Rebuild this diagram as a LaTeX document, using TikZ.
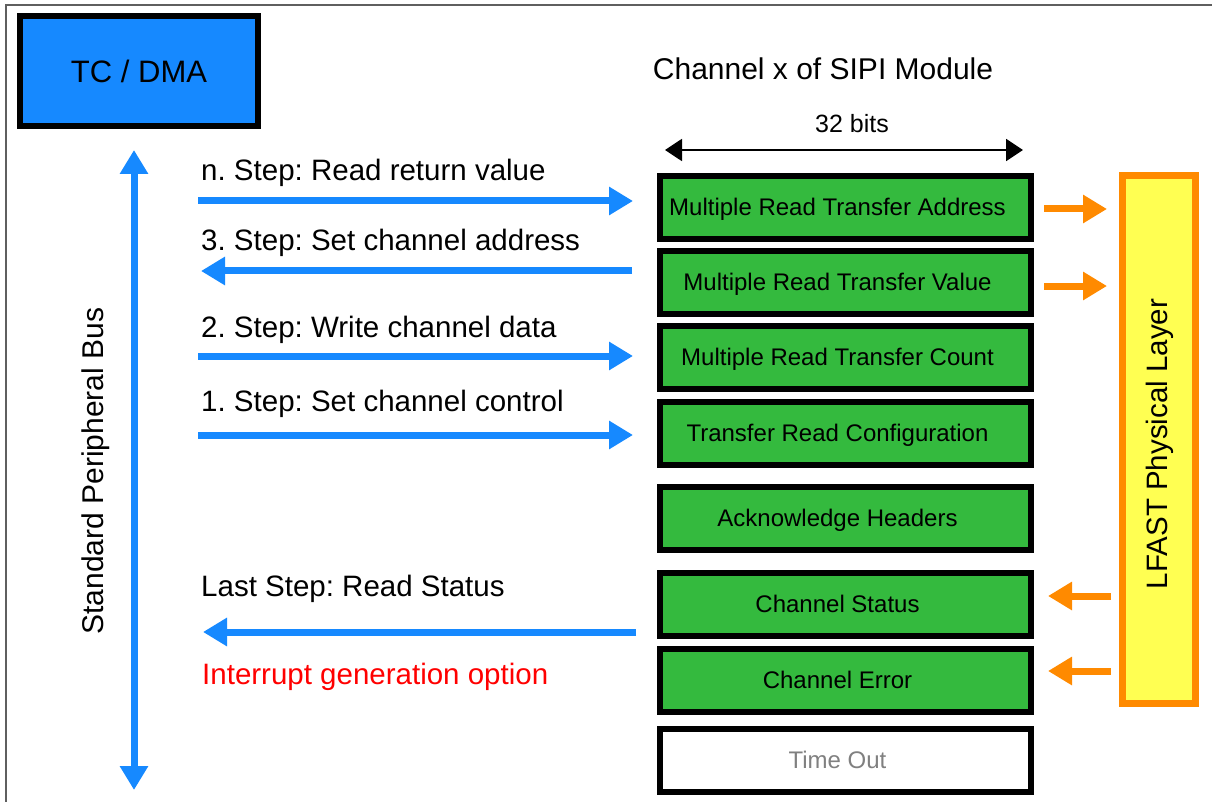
\documentclass[tikz,border=0pt]{standalone}
\usepackage{fontspec}
\setmainfont{Liberation Sans}
\usetikzlibrary{arrows.meta}
\definecolor{busblue}{RGB}{22,137,255}
\definecolor{regGreen}{RGB}{52,186,62}
\definecolor{lfOrange}{RGB}{255,138,0}
\definecolor{lfYellow}{RGB}{255,255,82}
\definecolor{frameGray}{RGB}{95,95,95}
\definecolor{toGray}{RGB}{128,128,128}
\tikzset{
  fbig/.style={font=\fontsize{29.5}{34}\selectfont},
  regbox/.style={draw=black, line width=6pt, fill=regGreen, minimum width=371pt, minimum height=63pt, inner sep=0pt, font=\fontsize{24}{28}\selectfont, text height=19pt, text depth=3pt, execute at end node={\hspace*{16pt}}},
  stepLabel/.style={fbig, anchor=base west, inner sep=0pt},
  barrow/.style={draw=busblue, line width=7pt, -{Triangle[length=24pt,width=27pt]}},
  bbarrow/.style={draw=busblue, line width=7pt, {Triangle[length=24pt,width=27pt]}-{Triangle[length=24pt,width=27pt]}},
  oarrow/.style={draw=lfOrange, line width=7pt, -{Triangle[length=24pt,width=27pt]}},
  karrow/.style={draw=black, line width=2pt, {Triangle[length=17pt,width=22pt]}-{Triangle[length=17pt,width=22pt]}},
}
\begin{document}
\frenchspacing
\begin{tikzpicture}[x=1pt,y=-1pt]
\useasboundingbox (0,0) rectangle (1212,802);
\fill[white] (0,0) rectangle (1212,802);
% outer frame
\coordinate (fa) at (6,802);
\coordinate (fb) at (6,5);
\coordinate (fc) at (1212,5);
\draw[frameGray, line width=2pt] (fa) -- (fb) -- (fc);

% TC / DMA
\node[draw=black, line width=6pt, fill=busblue, minimum width=238pt, minimum height=110pt, inner sep=0pt, font=\fontsize{31}{36}\selectfont] (tc) at (139,71) {TC / DMA};

% bus arrow
\coordinate (bt) at (134,150);
\coordinate (bb) at (134,790);
\draw[bbarrow] (bt) -- (bb);
\node[font=\fontsize{30}{35}\selectfont, rotate=90, inner sep=0pt] (bus) at (96,471) {Standard Peripheral Bus};

% titles
\node[font=\fontsize{30}{35}\selectfont, inner sep=0pt] (title) at (823,69) {Channel x of SIPI Module};
\node[font=\fontsize{25}{29}\selectfont, inner sep=0pt] (bits) at (852,124) {32 bits};
\coordinate (w1) at (665,150);
\coordinate (w2) at (1023,150);
\draw[karrow] (w1) -- (w2);

% registers
\node[regbox] (b1) at (845.5,208) {Multiple Read Transfer Address};
\node[regbox] (b2) at (845.5,282.5) {Multiple Read Transfer Value};
\node[regbox] (b3) at (845.5,357.5) {Multiple Read Transfer Count};
\node[regbox] (b4) at (845.5,433.5) {Transfer Read Configuration};
\node[regbox] (b5) at (845.5,518.5) {Acknowledge Headers};
\node[regbox] (b6) at (845.5,604.5) {Channel Status};
\node[regbox] (b7) at (845.5,680.5) {Channel Error};
\node[regbox, fill=white, text=toGray] (b8) at (845.5,760.5) {Time Out};

% LFAST
\node[draw=lfOrange, line width=7pt, fill=lfYellow, minimum width=73pt, minimum height=528pt, inner sep=0pt] (lf) at (1159,439.5) {};
\node[fbig, rotate=90, inner sep=0pt] (lft) at (1160,444) {LFAST Physical Layer};

% orange arrows
\coordinate (o1) at (1044,209);
\coordinate (o2) at (1044,286);
\draw[oarrow, shorten >=12pt] (o1) -- (o1 -| lf.west);
\draw[oarrow, shorten >=12pt] (o2) -- (o2 -| lf.west);
\coordinate (o3) at (1111,596);
\coordinate (o4) at (1111,671);
\draw[oarrow, shorten >=14pt] (o3) -- (o3 -| b6.east);
\draw[oarrow, shorten >=14pt] (o4) -- (o4 -| b7.east);

% step arrows
\coordinate (s1) at (198,201);
\coordinate (s2) at (632,271);
\coordinate (s3) at (198,356);
\coordinate (s4) at (198,435);
\coordinate (s5) at (636,632);
\draw[barrow, shorten >=24pt] (s1) -- (s1 -| b1.west);
\draw[barrow, shorten >=-60pt] (s2) -- (s2 -| tc.east);
\draw[barrow, shorten >=24pt] (s3) -- (s3 -| b3.west);
\draw[barrow, shorten >=24pt] (s4) -- (s4 -| b4.west);
\draw[barrow, shorten >=-58pt] (s5) -- (s5 -| tc.east);

% labels
\node[stepLabel] (l1) at (201,181) {n. Step: Read return value};
\node[stepLabel] (l2) at (201,251) {3. Step: Set channel address};
\node[stepLabel] (l3) at (201,337) {2. Step: Write channel data};
\node[stepLabel] (l4) at (201,411) {1. Step: Set channel control};
\node[stepLabel] (l5) at (201,596) {Last Step: Read Status};
\node[stepLabel, text=red] (l6) at (202,684) {Interrupt generation option};
\end{tikzpicture}
\end{document}
